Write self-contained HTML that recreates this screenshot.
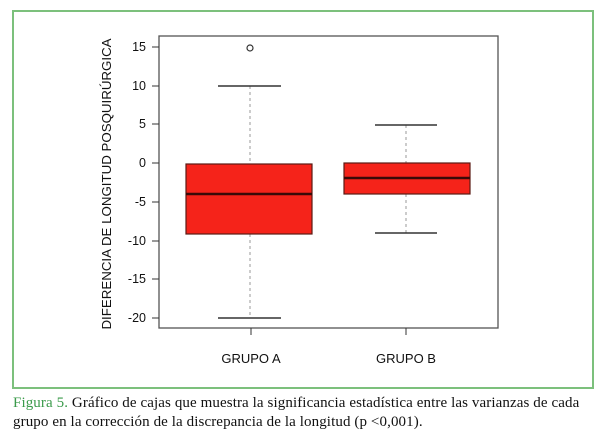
<!DOCTYPE html>
<html><head><meta charset="utf-8"><style>
body{margin:0;background:#fff;width:605px;height:442px;overflow:hidden}
.cap{position:absolute;left:13px;top:394px;font-family:"Liberation Serif",serif;font-size:15px;line-height:19px;color:#111;width:580px;letter-spacing:0.1px}
</style></head><body>
<svg width="605" height="442" style="position:absolute;left:0;top:0" font-family="Liberation Sans, sans-serif">
<rect x="13" y="11" width="580" height="377" fill="none" stroke="#7cc07c" stroke-width="2"/>
<rect x="159" y="36" width="339" height="292" fill="none" stroke="#555" stroke-width="1.3"/>
<g stroke="#333" stroke-width="1">
<line x1="152" y1="47" x2="159" y2="47"/><line x1="152" y1="86" x2="159" y2="86"/>
<line x1="152" y1="124" x2="159" y2="124"/><line x1="152" y1="163" x2="159" y2="163"/>
<line x1="152" y1="202" x2="159" y2="202"/><line x1="152" y1="241" x2="159" y2="241"/>
<line x1="152" y1="279" x2="159" y2="279"/><line x1="152" y1="318" x2="159" y2="318"/>
<line x1="251" y1="328" x2="251" y2="335"/><line x1="406" y1="328" x2="406" y2="335"/>
</g>
<g font-size="12.5" fill="#111" text-anchor="end">
<text x="146" y="51">15</text><text x="146" y="90">10</text><text x="146" y="128">5</text>
<text x="146" y="167">0</text><text x="146" y="206">-5</text><text x="146" y="245">-10</text>
<text x="146" y="283">-15</text><text x="146" y="322">-20</text>
</g>
<text transform="translate(111,184) rotate(-90)" font-size="13.3" text-anchor="middle" fill="#111">DIFERENCIA DE LONGITUD POSQUIRÚRGICA</text>
<g font-size="13" fill="#111" text-anchor="middle"><text x="251" y="363">GRUPO A</text><text x="406" y="363">GRUPO B</text></g>
<g stroke="#999" stroke-dasharray="3,3"><line x1="250" y1="86" x2="250" y2="164"/><line x1="250" y1="234" x2="250" y2="318"/>
<line x1="406" y1="125" x2="406" y2="163"/><line x1="406" y1="194" x2="406" y2="233"/></g>
<g stroke="#333" stroke-width="1.5"><line x1="218" y1="86" x2="281" y2="86"/><line x1="218" y1="318" x2="281" y2="318"/>
<line x1="375" y1="125" x2="437" y2="125"/><line x1="375" y1="233" x2="437" y2="233"/></g>
<circle cx="250" cy="48" r="3" fill="none" stroke="#333" stroke-width="1.2"/>
<rect x="186" y="164" width="126" height="70" fill="#f5231a" stroke="#5a1a14" stroke-width="1.2"/>
<line x1="186" y1="194" x2="312" y2="194" stroke="#3a0a08" stroke-width="2.5"/>
<rect x="344" y="163" width="126" height="31" fill="#f5231a" stroke="#5a1a14" stroke-width="1.2"/>
<line x1="344" y1="178" x2="470" y2="178" stroke="#3a0a08" stroke-width="2.5"/>
</svg>
<div class="cap"><span style="color:#3a9a4a">Figura 5.</span> Gráfico de cajas que muestra la significancia estadística entre las varianzas de cada<br>grupo en la corrección de la discrepancia de la longitud (p &lt;0,001).</div>
</body></html>
